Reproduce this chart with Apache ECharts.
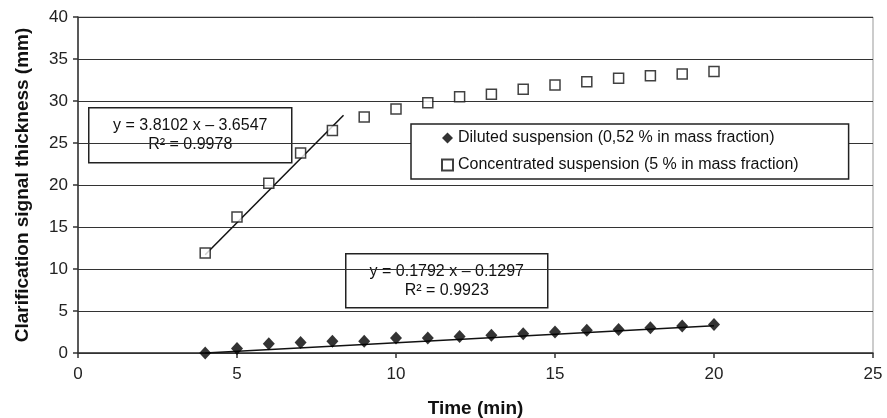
<!DOCTYPE html>
<html>
<head>
<meta charset="utf-8">
<script src="https://cdn.jsdelivr.net/npm/echarts@6/dist/echarts.min.js"></script>
<style>
  html, body { margin: 0; padding: 0; background: #fff; }
  #chart { width: 887px; height: 418px; }
</style>
</head>
<body>
<div id="chart"></div>
<script>
// time (min)
const timeMin = [4, 5, 6, 7, 8, 9, 10, 11, 12, 13, 14, 15, 16, 17, 18, 19, 20];
// diluted suspension (0,52 %)
const diluted = [0.0, 0.55, 1.1, 1.25, 1.4, 1.4, 1.8, 1.8, 1.95, 2.1, 2.3, 2.5, 2.7, 2.8, 3.0, 3.2, 3.4];
// concentrated suspension (5 %)
const concentrated = [11.9, 16.2, 20.2, 23.8, 26.5, 28.1, 29.05, 29.8, 30.5, 30.8, 31.4, 31.9, 32.3, 32.7, 33.0, 33.2, 33.5];
// trend line ends
const trendConc = [[4, 11.7], [8.35, 28.3]];
const trendDil = [[4, 0.0], [20, 3.25]];

const eqConc = ['y = 3.8102 x \u2013 3.6547', 'R\u00b2 = 0.9978'];
const eqDil = ['y = 0.1792 x \u2013 0.1297', 'R\u00b2 = 0.9923'];

const font = '"Liberation Sans", Arial, sans-serif';

function pairs(xs, ys) {
    return xs.map((x, i) => [x, ys[i]]);
}

function eqBox(x, y, w, h, lines) {
    return {
        type: 'group', left: x, top: y, z: 50,
        children: [
            { type: 'rect', shape: { x: 0, y: 0, width: w, height: h },
              style: { fill: '#fff', stroke: '#222', lineWidth: 1.5 } },
            { type: 'text', x: w / 2, y: h / 2,
              style: { text: lines.join('\n'), font: '16px ' + font, fill: '#111',
                       align: 'center', verticalAlign: 'middle', lineHeight: 19 } }
        ]
    };
}

const chart = echarts.init(document.getElementById('chart'));
chart.setOption({
    animation: false,
    textStyle: { fontFamily: font },
    grid: {
        left: 78, right: 14, top: 17, bottom: 65,
        outerBoundsMode: 'none',
        show: true, borderColor: '#999', borderWidth: 1
    },
    legend: {
        data: ['Diluted suspension (0,52 % in mass fraction)', 'Concentrated suspension (5 % in mass fraction)'],
        orient: 'vertical',
        left: 411, top: 124,
        padding: [6, 50, 6, 30],
        itemGap: 11,
        itemWidth: 11, itemHeight: 11,
        borderColor: '#222', borderWidth: 1.5,
        backgroundColor: '#fff',
        textStyle: { fontSize: 16, color: '#111', fontFamily: font },
        z: 50
    },
    xAxis: {
        type: 'value', min: 0, max: 25, interval: 5,
        name: 'Time (min)', nameLocation: 'middle', nameGap: 46,
        nameTextStyle: { fontSize: 19, fontWeight: 'bold', color: '#111' },
        axisLine: { lineStyle: { color: '#333', width: 1.5 } },
        axisTick: { show: true, length: 5, lineStyle: { color: '#333', width: 1.5 } },
        axisLabel: { fontSize: 17, color: '#222', margin: 13 },
        splitLine: { show: false }
    },
    yAxis: {
        type: 'value', min: 0, max: 40, interval: 5,
        name: 'Clarification signal thickness (mm)', nameLocation: 'middle', nameGap: 46,
        nameTextStyle: { fontSize: 19, fontWeight: 'bold', color: '#111' },
        axisLine: { show: true, lineStyle: { color: '#333', width: 1.5 } },
        axisTick: { show: true, length: 5, lineStyle: { color: '#333', width: 1.5 } },
        axisLabel: { fontSize: 17, color: '#222', margin: 10 },
        splitLine: { lineStyle: { color: '#333', width: 1.2 } }
    },
    series: [
        {
            name: 'trend concentrated', type: 'line', data: trendConc,
            symbol: 'none', lineStyle: { color: '#111', width: 1.5 }, z: 3, silent: true
        },
        {
            name: 'trend diluted', type: 'line', data: trendDil,
            symbol: 'none', lineStyle: { color: '#111', width: 1.5 }, z: 3, silent: true
        },
        {
            name: 'Diluted suspension (0,52 % in mass fraction)', type: 'scatter',
            data: pairs(timeMin, diluted),
            symbol: 'diamond', symbolSize: [12, 13],
            itemStyle: { color: '#000' }, z: 4
        },
        {
            name: 'Concentrated suspension (5 % in mass fraction)', type: 'scatter',
            data: pairs(timeMin, concentrated),
            symbol: 'rect', symbolSize: 10,
            itemStyle: { color: '#fff', borderColor: '#111', borderWidth: 1.5 }, z: 4
        }
    ],
    graphic: [
        eqBox(88, 107, 203, 55, eqConc),
        eqBox(345, 253, 202, 54, eqDil)
    ]
});
</script>
</body>
</html>
